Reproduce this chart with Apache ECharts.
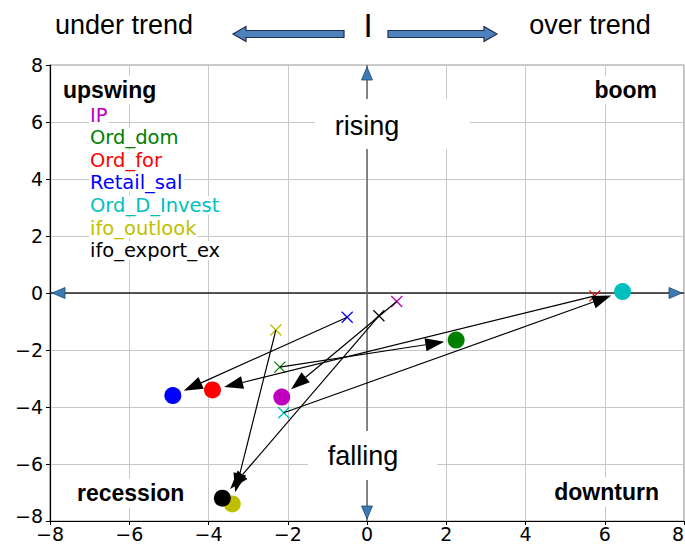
<!DOCTYPE html>
<html>
<head>
<meta charset="utf-8">
<script src="https://cdn.jsdelivr.net/npm/echarts@6/dist/echarts.min.js"></script>
<style>
  html, body { margin: 0; padding: 0; background: #fff; }
  #chart { width: 685px; height: 545px; }
</style>
</head>
<body>
<div id="chart"></div>
<script>
// Indicators: previous position (x marker) and current position (circle)
const names  = ['IP', 'Ord_dom', 'Ord_for', 'Retail_sal', 'Ord_D_Invest', 'ifo_outlook', 'ifo_export_ex'];
const colors = ['#bf00bf', '#008000', '#ff0000', '#0000ff', '#00bfbf', '#bfbf00', '#000000'];
const prevX  = [0.75, -2.2, 5.75, -0.5, -2.1, -2.3, 0.3];
const prevY  = [-0.3, -2.6, -0.1, -0.85, -4.2, -1.3, -0.8];
const currX  = [-2.15, 2.25, -3.9, -4.9, 6.45, -3.4, -3.65];
const currY  = [-3.65, -1.65, -3.4, -3.6, 0.05, -7.4, -7.2];

// Axis range and tick step (both axes)
const AXIS_MIN = -8;
const AXIS_MAX = 8;
const TICK_STEP = 2;

// Quadrant names
const quadrants = { upswing: 'upswing', boom: 'boom', recession: 'recession', downturn: 'downturn' };

const TICK_FONT = '"DejaVu Sans", sans-serif';
const TEXT_FONT = '"Liberation Sans", Arial, sans-serif';

const chart = echarts.init(document.getElementById('chart'), null, { renderer: 'svg' });

function minusSign(v) { return String(v).replace('-', '\u2212'); }

// Arrow from previous to current position, with an x marker at the start
function renderMove(params, api) {
  const p0 = api.coord([api.value(0), api.value(1)]);
  const p1 = api.coord([api.value(2), api.value(3)]);
  const color = api.visual('color');
  const dx = p1[0] - p0[0], dy = p1[1] - p0[1];
  const len = Math.hypot(dx, dy);
  const ux = dx / len, uy = dy / len;
  const nx = -uy, ny = ux;
  const shrink = 12, headLen = 19, headHalf = 6.5, m = 5.5;
  const tip = [p1[0] - ux * shrink, p1[1] - uy * shrink];
  const base = [tip[0] - ux * headLen, tip[1] - uy * headLen];
  return {
    type: 'group',
    children: [
      { type: 'line', shape: { x1: p0[0] - m, y1: p0[1] - m, x2: p0[0] + m, y2: p0[1] + m },
        style: { stroke: color, lineWidth: 1.3 } },
      { type: 'line', shape: { x1: p0[0] - m, y1: p0[1] + m, x2: p0[0] + m, y2: p0[1] - m },
        style: { stroke: color, lineWidth: 1.3 } },
      { type: 'line', shape: { x1: p0[0], y1: p0[1], x2: base[0], y2: base[1] },
        style: { stroke: '#000', lineWidth: 1.2 } },
      { type: 'polygon',
        shape: { points: [tip, [base[0] + nx * headHalf, base[1] + ny * headHalf], [base[0] - nx * headHalf, base[1] - ny * headHalf]] },
        style: { fill: '#000' } }
    ]
  };
}

// Zero lines with blue arrowheads at both ends
function renderZeroAxis(params, api) {
  const a = api.coord([api.value(0), api.value(1)]);
  const b = api.coord([api.value(2), api.value(3)]);
  const horizontal = Math.abs(a[1] - b[1]) < 1;
  const inset = 2, hl = 13, hw = 5.5;
  const stroke = horizontal ? '#222' : '#666';
  const head = (tip, dir) => {
    const nx = -dir[1], ny = dir[0];
    const t = [tip[0] - dir[0] * inset, tip[1] - dir[1] * inset];
    const bs = [t[0] - dir[0] * hl, t[1] - dir[1] * hl];
    return { type: 'polygon',
      shape: { points: [t, [bs[0] + nx * hw, bs[1] + ny * hw], [bs[0] - nx * hw, bs[1] - ny * hw]] },
      style: { fill: '#3a7ab5', stroke: '#24496b', lineWidth: 0.8 } };
  };
  const dx = b[0] - a[0], dy = b[1] - a[1];
  const len = Math.hypot(dx, dy);
  const u = [dx / len, dy / len];
  return {
    type: 'group',
    children: [
      { type: 'line', shape: { x1: a[0], y1: a[1], x2: b[0], y2: b[1] }, style: { stroke: stroke, lineWidth: 1.5 } },
      head(b, u),
      head(a, [-u[0], -u[1]])
    ]
  };
}

const series = [];
series.push({
  type: 'custom',
  name: 'zero-axes',
  silent: true,
  z: 1,
  renderItem: renderZeroAxis,
  encode: { x: [0, 2], y: [1, 3] },
  data: [[AXIS_MIN, 0, AXIS_MAX, 0], [0, AXIS_MIN, 0, AXIS_MAX]]
});
names.forEach((n, i) => {
  series.push({
    type: 'scatter',
    name: n,
    symbol: 'circle',
    symbolSize: 17,
    itemStyle: { color: colors[i], opacity: 1 },
    emphasis: { disabled: true },
    data: [[currX[i], currY[i]]],
    z: 3
  });
});
names.forEach((n, i) => {
  series.push({
    type: 'custom',
    name: n,
    itemStyle: { color: colors[i] },
    renderItem: renderMove,
    encode: { x: [0, 2], y: [1, 3] },
    data: [[prevX[i], prevY[i], currX[i], currY[i]]],
    z: 4
  });
});

function axisCommon() {
  return {
    type: 'value',
    min: AXIS_MIN,
    max: AXIS_MAX,
    interval: TICK_STEP,
    axisLine: { show: true, onZero: false, lineStyle: { color: '#000', width: 1.2 } },
    axisTick: { show: true, inside: false, length: 4, lineStyle: { color: '#000', width: 1 } },
    splitLine: { show: true, lineStyle: { color: '#c8c8c8', width: 1 } },
    axisLabel: { fontFamily: TICK_FONT, fontSize: 19, color: '#000', formatter: minusSign }
  };
}

const xAxis = axisCommon();
xAxis.axisLabel.margin = 3;
xAxis.axisLabel.lineHeight = 19;
xAxis.axisLabel.alignMaxLabel = 'right';
const yAxis = axisCommon();
yAxis.axisLabel.margin = 7;
yAxis.axisLabel.lineHeight = 14;
// lowest y label sits a little higher so it clears the x labels in the corner
yAxis.axisLabel.formatter = v => v === AXIS_MIN ? '{low|' + minusSign(v) + '}' : minusSign(v);
yAxis.axisLabel.rich = { low: { fontFamily: TICK_FONT, fontSize: 19, lineHeight: 14, padding: [0, 0, 10, 0] } };

function headerArrow(x0, x1, y, dir) {
  // dir: -1 points left, 1 points right
  const bodyHalf = 3.5, headHalf = 7.5, headLen = 13;
  const tipX = dir < 0 ? x0 : x1;
  const tailX = dir < 0 ? x1 : x0;
  const baseX = tipX - dir * headLen;
  return {
    type: 'polygon',
    z: 60,
    shape: { points: [
      [tailX, y - bodyHalf], [baseX, y - bodyHalf], [baseX, y - headHalf], [tipX, y],
      [baseX, y + headHalf], [baseX, y + bodyHalf], [tailX, y + bodyHalf]
    ] },
    style: { fill: '#4f81bd', stroke: '#1f3050', lineWidth: 1.2 }
  };
}

function label(text, x, y, align, size, bold, pad) {
  return {
    type: 'text', x: x, y: y, z: 60,
    style: {
      text: text, fill: '#000',
      font: (bold ? 'bold ' : '') + size + 'px ' + TEXT_FONT,
      textAlign: align, textVerticalAlign: 'middle',
      backgroundColor: pad ? '#fff' : null,
      padding: pad || 0
    }
  };
}

const option = {
  backgroundColor: '#fff',
  animation: false,
  grid: {
    left: 50, right: 1, top: 65, bottom: 24,
    outerBoundsMode: 'none', containLabel: false,
    show: true, borderColor: '#9a9a9a', borderWidth: 1.2, backgroundColor: 'transparent'
  },
  xAxis: xAxis,
  yAxis: yAxis,
  legend: {
    orient: 'vertical',
    left: 84,
    top: 105,
    padding: 0,
    icon: 'none',
    itemWidth: 0,
    itemHeight: 19,
    itemGap: 2.6,
    selectedMode: false,
    data: names.map((n, i) => ({
      name: n,
      textStyle: { color: colors[i] }
    })),
    textStyle: { fontFamily: TICK_FONT, fontSize: 19.5, lineHeight: 19, backgroundColor: '#fff', padding: [0, 1] }
  },
  graphic: [
    // header
    label('under trend', 124, 25, 'center', 27, false),
    label('over trend', 590, 25, 'center', 27, false),
    label('I', 368, 25, 'center', 33, false),
    headerArrow(233, 344, 34, -1),
    headerArrow(388, 497, 34, 1),
    // vertical direction labels with white boxes
    { type: 'rect', z: 50, shape: { x: 315, y: 99, width: 155, height: 50 }, style: { fill: '#fff' } },
    label('rising', 367, 126, 'center', 27, false),
    { type: 'rect', z: 50, shape: { x: 308, y: 431, width: 129, height: 49 }, style: { fill: '#fff' } },
    label('falling', 363, 456, 'center', 27, false),
    // quadrants
    label(quadrants.upswing, 60, 90, 'left', 23, true, [3, 3]),
    label(quadrants.boom, 660, 90, 'right', 23, true, [3, 3]),
    label(quadrants.recession, 74, 493, 'left', 23, true, [3, 3]),
    label(quadrants.downturn, 662, 492, 'right', 23, true, [3, 3])
  ],
  series: series
};

chart.setOption(option);
</script>
</body>
</html>
